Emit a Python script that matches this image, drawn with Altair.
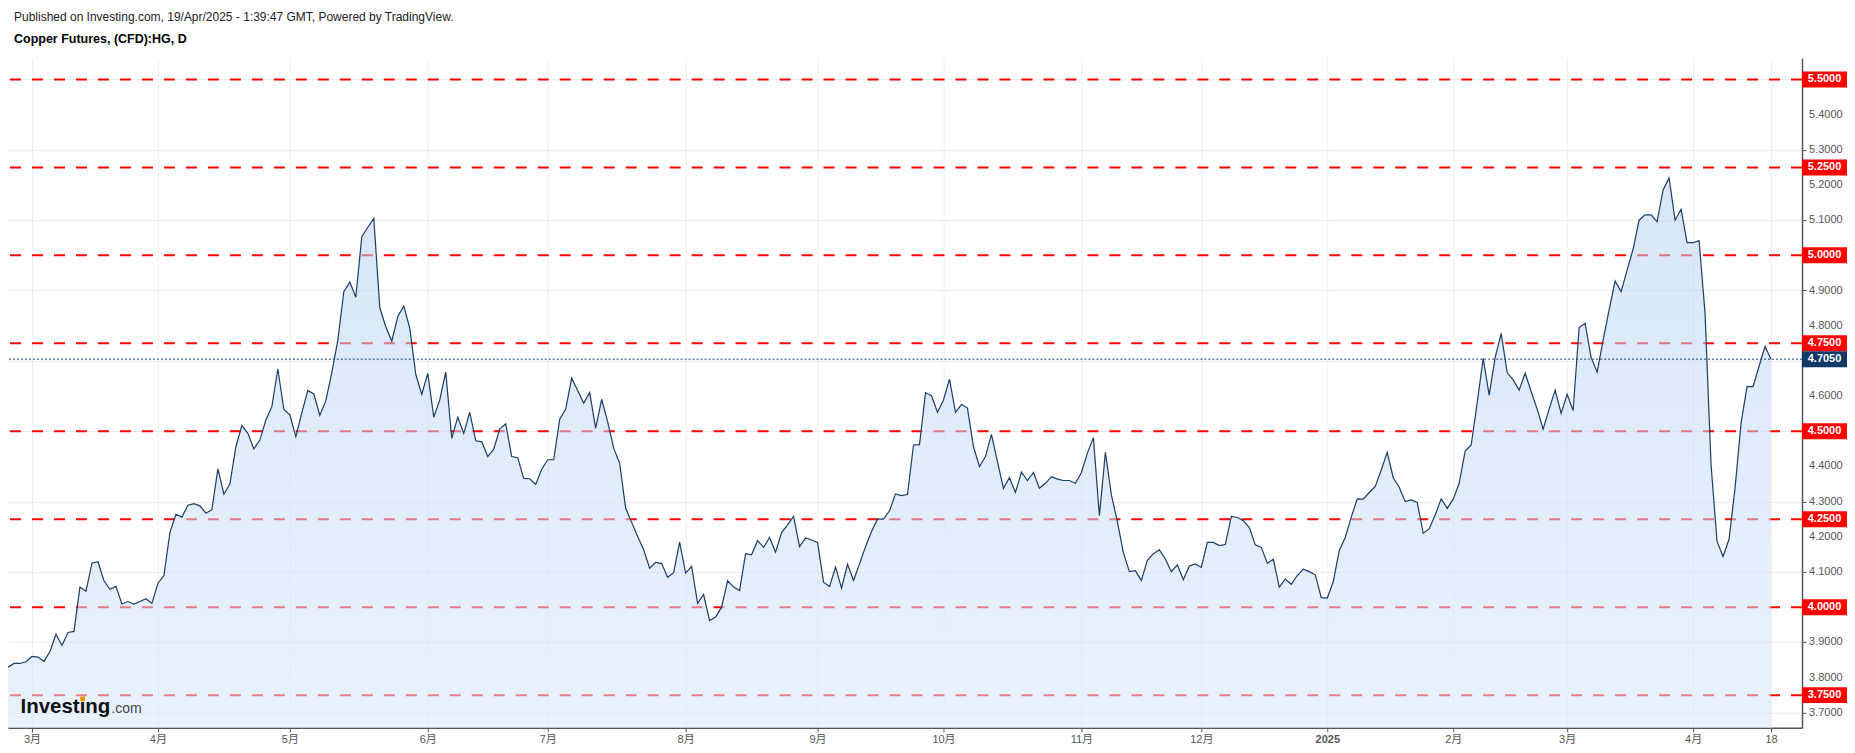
import altair as alt
import pandas as pd

# ---------------- data ----------------
close = [
    3.829, 3.840, 3.840, 3.845, 3.860, 3.858, 3.846, 3.874, 3.923, 3.891,
    3.928, 3.931, 4.057, 4.045, 4.125, 4.129, 4.075, 4.051, 4.059, 4.009,
    4.016, 4.009, 4.016, 4.024, 4.011, 4.068, 4.090, 4.212, 4.264, 4.256,
    4.290, 4.294, 4.288, 4.267, 4.277, 4.393, 4.321, 4.350, 4.456, 4.516,
    4.494, 4.450, 4.475, 4.532, 4.570, 4.677, 4.562, 4.547, 4.485, 4.553,
    4.616, 4.606, 4.545, 4.587, 4.667, 4.759, 4.897, 4.924, 4.881, 5.053,
    5.080, 5.105, 4.851, 4.797, 4.756, 4.826, 4.856, 4.793, 4.662, 4.605,
    4.665, 4.540, 4.589, 4.668, 4.480, 4.540, 4.494, 4.554, 4.473, 4.470,
    4.428, 4.449, 4.506, 4.521, 4.428, 4.425, 4.366, 4.365, 4.349, 4.392,
    4.419, 4.419, 4.534, 4.563, 4.651, 4.616, 4.580, 4.610, 4.509, 4.591,
    4.527, 4.452, 4.409, 4.281, 4.241, 4.201, 4.163, 4.111, 4.127, 4.124,
    4.085, 4.098, 4.185, 4.097, 4.116, 4.011, 4.036, 3.962, 3.972, 4.000,
    4.075, 4.057, 4.047, 4.152, 4.149, 4.189, 4.170, 4.198, 4.156, 4.212,
    4.234, 4.258, 4.172, 4.197, 4.191, 4.184, 4.071, 4.059, 4.114, 4.054,
    4.122, 4.076, 4.123, 4.172, 4.215, 4.250, 4.250, 4.274, 4.322, 4.317,
    4.320, 4.461, 4.462, 4.610, 4.601, 4.554, 4.589, 4.648, 4.554, 4.576,
    4.566, 4.456, 4.400, 4.428, 4.491, 4.414, 4.338, 4.368, 4.326, 4.384,
    4.360, 4.383, 4.338, 4.352, 4.371, 4.364, 4.360, 4.360, 4.352, 4.383,
    4.438, 4.482, 4.260, 4.440, 4.319, 4.243, 4.155, 4.101, 4.104, 4.076,
    4.133, 4.152, 4.163, 4.137, 4.101, 4.120, 4.078, 4.117, 4.123, 4.113,
    4.184, 4.184, 4.175, 4.178, 4.258, 4.255, 4.246, 4.226, 4.177, 4.170,
    4.125, 4.136, 4.057, 4.080, 4.065, 4.090, 4.108, 4.101, 4.092, 4.027,
    4.026, 4.073, 4.161, 4.198, 4.256, 4.308, 4.307, 4.326, 4.343, 4.390,
    4.440, 4.368, 4.341, 4.300, 4.305, 4.298, 4.210, 4.223, 4.262, 4.308,
    4.281, 4.307, 4.352, 4.444, 4.461, 4.581, 4.707, 4.603, 4.710, 4.778,
    4.667, 4.646, 4.617, 4.665, 4.613, 4.563, 4.506, 4.563, 4.617, 4.551,
    4.605, 4.559, 4.795, 4.807, 4.710, 4.668, 4.759, 4.845, 4.927, 4.897,
    4.958, 5.018, 5.100, 5.115, 5.115, 5.096, 5.186, 5.220, 5.100, 5.131,
    5.036, 5.036, 5.042, 4.835, 4.404, 4.187, 4.144, 4.193, 4.338, 4.523,
    4.627, 4.627, 4.684, 4.741, 4.705,
]

# trading-day index of each x-axis tick and its label
tick_days = [4, 25, 47, 70, 90, 113, 135, 156, 179, 199, 220, 241, 260, 281, 294]
tick_labels = ["3月", "4月", "5月", "6月", "7月", "8月", "9月", "10月", "11月",
               "12月", "2025", "2月", "3月", "4月", "18"]
bold_tick = 220

levels = [3.75, 4.00, 4.25, 4.50, 4.75, 5.00, 5.25, 5.50]
last_price = 4.705
y_ticks = [3.7, 3.8, 3.9, 4.0, 4.1, 4.2, 4.3, 4.4, 4.5, 4.6, 4.7, 4.8, 4.9,
           5.0, 5.1, 5.2, 5.3, 5.4, 5.5]

header_line = "Published on Investing.com, 19/Apr/2025 - 1:39:47 GMT, Powered by TradingView."
title_line = "Copper Futures, (CFD):HG, D"
logo_main = "Investing"
logo_suffix = ".com"

# ---------------- layout / style ----------------
W, H = 1795, 670
Y_DOMAIN = [3.6571, 5.5605]
X_DOMAIN = [0, 299.17]
BOX_W = 45
BOX_HALF = 8 * (Y_DOMAIN[1] - Y_DOMAIN[0]) / H
FONT = "Liberation Sans, Arial, Noto Sans CJK SC, sans-serif"
RED = "#ff0000"
NAVY = "#0f3a66"
LINE = "#1b3d66"
AXIS_GREY = "#555555"

price = pd.DataFrame({"day": list(range(len(close))), "close": close})
lev = pd.DataFrame({"level": levels})
cur = pd.DataFrame({"level": [last_price]})
# y tick labels not hidden under a level box
ylab = pd.DataFrame({"level": [v for v in y_ticks
                               if all(abs(v - l) > 0.02 for l in levels + [last_price])]})

xscale = alt.Scale(domain=X_DOMAIN, nice=False, zero=False)
yscale = alt.Scale(domain=Y_DOMAIN, nice=False, zero=False)

days_js = "[" + ",".join(str(d) for d in tick_days) + "]"
labels_js = "[" + ",".join("'" + s + "'" for s in tick_labels) + "]"
x_label_expr = labels_js + "[indexof(" + days_js + ", datum.value)]"

x_axis = alt.Axis(
    values=tick_days, labelExpr=x_label_expr, title=None, grid=True,
    gridColor="#f0f0f0", gridWidth=1, domainColor=AXIS_GREY, domainWidth=1.5,
    tickColor=AXIS_GREY, tickSize=4, labelColor=AXIS_GREY, labelFontSize=11,
    labelFont=FONT, labelPadding=2, labelFlush=False, labelOverlap=False,
    labelFontWeight={"condition": {"test": "datum.value === %d" % bold_tick, "value": "bold"},
                     "value": "normal"},
)
y_axis = alt.Axis(
    orient="right", values=y_ticks, labels=False, title=None, grid=True,
    gridColor="#ececec", gridWidth=1, domainColor=AXIS_GREY, domainWidth=1.5,
    tickColor=AXIS_GREY, tickSize=4,
)

fill = alt.Gradient(
    gradient="linear",
    stops=[alt.GradientStop(color="#b8d2ed", offset=0),
           alt.GradientStop(color="#d5e7fb", offset=1)],
    x1=0, x2=0, y1=0, y2=1,
)

# axes are defined once; the other layers only share the scales
rules = alt.Chart(lev).mark_rule(color=RED, strokeWidth=2, strokeDash=[11, 11]).encode(
    y=alt.Y("level:Q", scale=yscale, axis=y_axis)
)

area = alt.Chart(price).mark_area(color=fill, fillOpacity=0.55).encode(
    x=alt.X("day:Q", scale=xscale, axis=x_axis),
    y=alt.Y("close:Q", scale=yscale, title=None),
    y2=alt.datum(Y_DOMAIN[0]),
)

line = alt.Chart(price).mark_line(color=LINE, strokeWidth=1.2).encode(
    x=alt.X("day:Q", scale=xscale, title=None),
    y=alt.Y("close:Q", scale=yscale, title=None),
)

cur_rule = alt.Chart(cur).mark_rule(color=NAVY, strokeWidth=1, strokeDash=[2, 2]).encode(
    y=alt.Y("level:Q", scale=yscale, title=None)
)

# right-hand tick labels
ytext = alt.Chart(ylab).mark_text(
    align="left", baseline="middle", fontSize=11, font=FONT, color=AXIS_GREY
).encode(
    x=alt.value(W + 7),
    y=alt.Y("level:Q", scale=yscale, title=None),
    text=alt.Text("level:Q", format=".4f"),
)


def label_boxes(df, color):
    box = alt.Chart(df).transform_calculate(
        lo="datum.level - %f" % BOX_HALF, hi="datum.level + %f" % BOX_HALF
    ).mark_rect(color=color).encode(
        x=alt.value(W), x2=alt.value(W + BOX_W),
        y=alt.Y("lo:Q", scale=yscale, title=None), y2="hi:Q",
    )
    txt = alt.Chart(df).mark_text(
        color="white", fontWeight="bold", fontSize=11, font=FONT,
        align="center", baseline="middle",
    ).encode(
        x=alt.value(W + BOX_W / 2),
        y=alt.Y("level:Q", scale=yscale, title=None),
        text=alt.Text("level:Q", format=".4f"),
    )
    return box + txt


red_labels = label_boxes(lev, RED)
cur_labels = label_boxes(cur, NAVY)

header = alt.Chart(pd.DataFrame({"t": [header_line]})).mark_text(
    align="left", baseline="middle", fontSize=12, font=FONT, color="#222222"
).encode(x=alt.value(6), y=alt.value(-41.5), text="t:N")

title = alt.Chart(pd.DataFrame({"t": [title_line]})).mark_text(
    align="left", baseline="middle", fontSize=12.5, font=FONT, fontWeight="bold", color="#000000"
).encode(x=alt.value(6), y=alt.value(-19), text="t:N")

logo1 = alt.Chart(pd.DataFrame({"t": [logo_main]})).mark_text(
    align="left", baseline="alphabetic", fontSize=20.5, font=FONT, fontWeight="bold", color="#111111"
).encode(x=alt.value(12.5), y=alt.value(655), text="t:N")

logo2 = alt.Chart(pd.DataFrame({"t": [logo_suffix]})).mark_text(
    align="left", baseline="alphabetic", fontSize=14, font=FONT, color="#444444"
).encode(x=alt.value(103.5), y=alt.value(655), text="t:N")

logo_dot = alt.Chart(pd.DataFrame({"t": [logo_main]})).mark_point(
    shape="square", filled=True, size=22, color="#f39200", opacity=1
).encode(x=alt.value(74.6), y=alt.value(641))

chart = alt.layer(
    rules, area, line, cur_rule, ytext, red_labels, cur_labels,
    header, title, logo1, logo2, logo_dot
).properties(
    width=W, height=H,
    background="white",
    autosize=alt.AutoSizeParams(type="none"),
    padding={"left": 0, "top": 50, "right": 45, "bottom": 17},
).configure_view(strokeWidth=0)

chart.save("out.html", embed_options={"renderer": "svg", "actions": False})
